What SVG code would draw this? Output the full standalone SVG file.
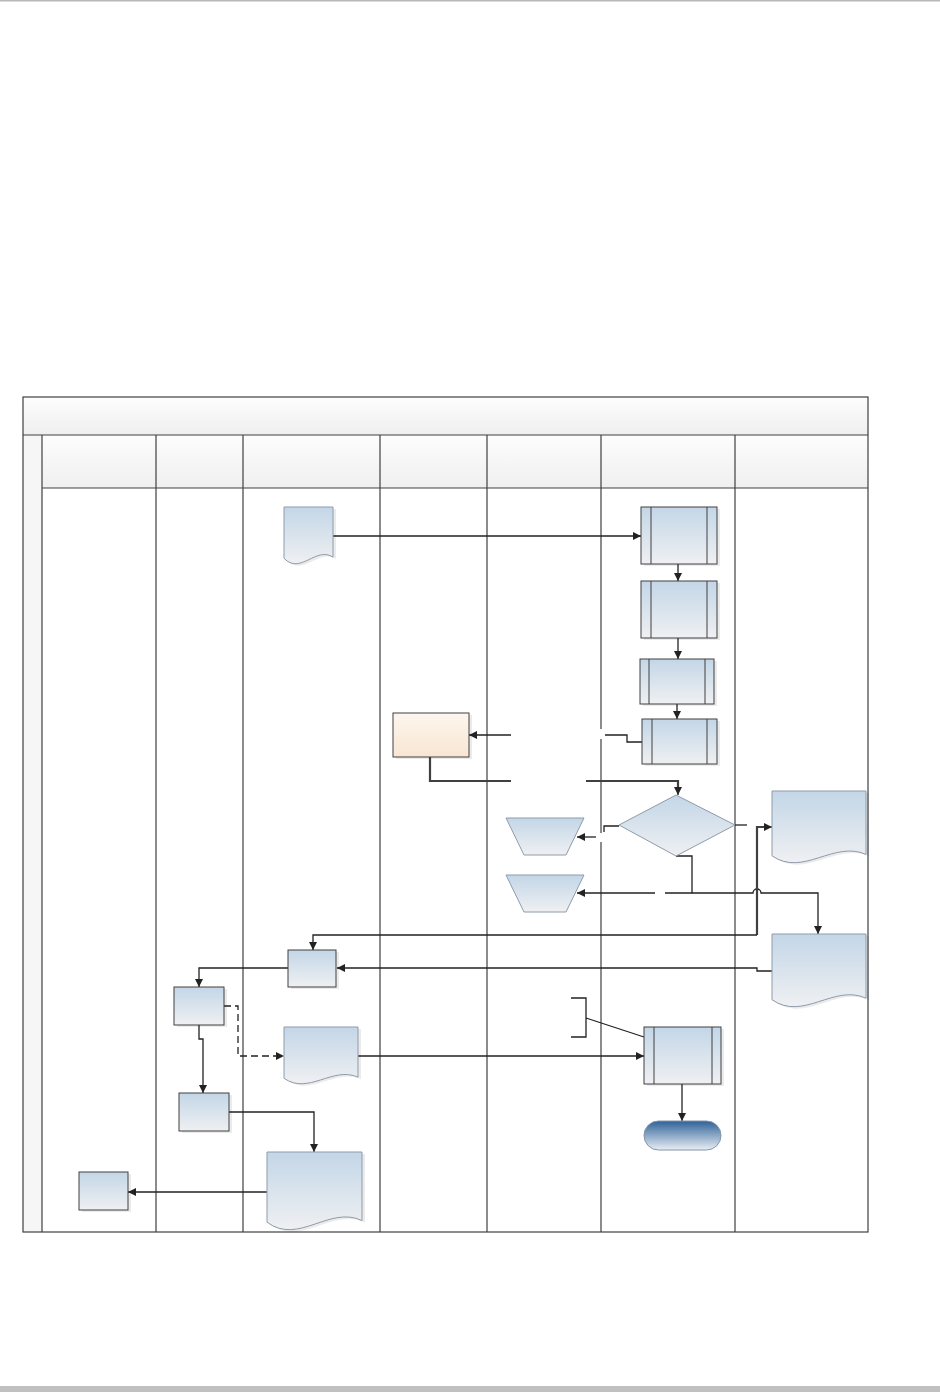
<svg xmlns="http://www.w3.org/2000/svg" width="940" height="1392" viewBox="0 0 940 1392">
<defs>
<linearGradient id="gBlue" x1="0" y1="0" x2="0" y2="1"><stop offset="0" stop-color="#c3d6e7"/><stop offset="1" stop-color="#eff0f2"/></linearGradient>
<linearGradient id="gOrange" x1="0" y1="0" x2="0" y2="1"><stop offset="0" stop-color="#fdf6ee"/><stop offset="1" stop-color="#f8e6d2"/></linearGradient>
<linearGradient id="gHead" x1="0" y1="0" x2="0" y2="1"><stop offset="0" stop-color="#fdfdfd"/><stop offset="1" stop-color="#efefef"/></linearGradient>
<linearGradient id="gTerm" x1="0" y1="0" x2="0" y2="1"><stop offset="0" stop-color="#2f6298"/><stop offset="1" stop-color="#e9eef4"/></linearGradient>
<marker id="arr" viewBox="0 0 10 10" refX="10" refY="5" markerWidth="9" markerHeight="8" markerUnits="userSpaceOnUse" orient="auto"><path d="M0,0 L10,5 L0,10 z" fill="#222"/></marker>
<style>
.lane{stroke:#404040;stroke-width:1.2;fill:none}
.proc{fill:url(#gBlue);stroke:#404040;stroke-width:1}
.doc{fill:url(#gBlue);stroke:#8e9bab;stroke-width:1}
.shape{fill:url(#gBlue);stroke:#8e9bab;stroke-width:1}
.sh{fill:#000;opacity:0.08}
.c{fill:none;stroke:#222;stroke-width:1.3}
.ca{fill:none;stroke:#222;stroke-width:1.3;marker-end:url(#arr)}
.thick{fill:none;stroke:#404040;stroke-width:2.2}
.inner{stroke:#404040;stroke-width:1}
</style>
</defs>
<rect x="0" y="0" width="940" height="1392" fill="#fff"/>
<rect x="0" y="0" width="940" height="1.5" fill="#b8b8b8"/>
<rect x="0" y="1386" width="940" height="6" fill="#c0c0c0"/>

<g id="pool">
<rect x="23" y="397" width="845" height="38" fill="url(#gHead)"/>
<rect x="42" y="435" width="826" height="53" fill="url(#gHead)"/>
<rect x="23" y="435" width="19" height="797" fill="#f6f6f6"/>
<rect x="23" y="397" width="845" height="835" class="lane" stroke-width="1.5"/>
<path class="lane" d="M23,435 H868 M42,488 H868 M42,435 V1232 M156,435 V1232 M243,435 V1232 M380,435 V1232 M487,435 V1232 M735,435 V1232 M601,435 V729 M601,739 V833 M601,842 V1232"/>
</g>

<g id="connectors">
<path class="c" d="M333,536 H641" stroke-width="1.5" marker-end="url(#arr)"/>
<path class="ca" d="M678,564 V581"/>
<path class="ca" d="M678,638 V659"/>
<path class="ca" d="M677,704 V719"/>
<path class="c" d="M642,742 H627 V735 H605"/>
<path class="ca" d="M511,735 H469"/>
<path class="thick" d="M430,757 V781 H511"/>
<path class="thick" d="M586,781 H678 V790"/>
<path class="ca" d="M678,788 V795"/>
<path class="c" d="M619,826 H604 V832"/>
<path class="ca" d="M596,837 H577"/>
<path class="c" d="M676,856 H692 V893 H665"/>
<path class="ca" d="M655,893 H577"/>
<path class="ca" d="M692,893 H753 a4,4 0 0 1 8,0 H818 V934"/>
<path class="c" d="M735,825 H747"/>
<path class="thick" d="M757,935 V827 H766" stroke="#111" stroke-width="2.5"/>
<path class="ca" d="M764,827 H772"/>
<path class="ca" d="M757,935 H313 V950" stroke-width="1.5"/>
<path class="ca" d="M772,971 H757 V968 H337" stroke-width="1.4"/>
<path class="ca" d="M288,968 H199 V987"/>
<path class="ca" d="M224,1006 H238 V1056 H284" stroke-dasharray="7,4"/>
<path class="ca" d="M358,1056 H644"/>
<path class="ca" d="M199,1025 V1039 H203 V1093"/>
<path class="ca" d="M229,1112 H314 V1152"/>
<path class="ca" d="M267,1192 H128"/>
<path class="ca" d="M682,1084 V1121"/>
<path class="c" d="M571,998 H586 V1037 H571 M586,1018 L644,1037" stroke="#404040"/>
</g>

<g id="doc1"><path class="sh" transform="translate(3,2)" d="M284,507 H333 V557.2 C316.3,545.8 300.2,575.4 284,558.3 Z"/><path class="doc" d="M284,507 H333 V557.2 C316.3,545.8 300.2,575.4 284,558.3 Z"/></g>
<g id="sub1"><rect class="sh" x="644" y="509" width="76" height="57"/><rect class="proc" x="641" y="507" width="76" height="57"/><path class="inner" d="M651,507 V564 M707,507 V564"/></g>
<g id="sub2"><rect class="sh" x="644" y="583" width="76" height="57"/><rect class="proc" x="641" y="581" width="76" height="57"/><path class="inner" d="M651,581 V638 M707,581 V638"/></g>
<g id="sub3"><rect class="sh" x="643" y="661" width="74" height="45"/><rect class="proc" x="640" y="659" width="74" height="45"/><path class="inner" d="M649,659 V704 M705,659 V704"/></g>
<g id="sub4"><rect class="sh" x="645" y="721" width="75" height="45"/><rect class="proc" x="642" y="719" width="75" height="45"/><path class="inner" d="M652,719 V764 M707,719 V764"/></g>
<g id="orange"><rect class="sh" x="396" y="715" width="76" height="44"/><rect x="393" y="713" width="76" height="44" fill="url(#gOrange)" stroke="#404040" stroke-width="1"/></g>
<g id="decision"><polygon class="shape" points="676,795 735,825 676,856 619,825"/></g>
<g id="trap1"><polygon class="shape" points="506,818 584,818 566,855 524,855"/></g>
<g id="trap2"><polygon class="shape" points="506,875 584,875 566,912 524,912"/></g>
<g id="docR1"><path class="sh" transform="translate(3,2)" d="M772,791 H866 V854.4 C834,840 803,877.4 772,855.8 Z"/><path class="doc" d="M772,791 H866 V854.4 C834,840 803,877.4 772,855.8 Z"/></g>
<g id="docR2"><path class="sh" transform="translate(3,2)" d="M772,934 H866 V998.2 C834,983.6 803,1021.6 772,999.7 Z"/><path class="doc" d="M772,934 H866 V998.2 C834,983.6 803,1021.6 772,999.7 Z"/></g>
<g id="boxA"><rect class="sh" x="291" y="952" width="48" height="37"/><rect class="proc" x="288" y="950" width="48" height="37"/></g>
<g id="boxB"><rect class="sh" x="177" y="989" width="50" height="38"/><rect class="proc" x="174" y="987" width="50" height="38"/></g>
<g id="docC"><path class="sh" transform="translate(3,2)" d="M284,1027 H358 V1077.2 C332.8,1065.8 308.4,1095.4 284,1078.3 Z"/><path class="doc" d="M284,1027 H358 V1077.2 C332.8,1065.8 308.4,1095.4 284,1078.3 Z"/></g>
<g id="boxD"><rect class="sh" x="182" y="1095" width="50" height="38"/><rect class="proc" x="179" y="1093" width="50" height="38"/></g>
<g id="docE"><path class="sh" transform="translate(3,2)" d="M267,1152 H362 V1220.6 C329.7,1205 298.4,1245.6 267,1222.2 Z"/><path class="doc" d="M267,1152 H362 V1220.6 C329.7,1205 298.4,1245.6 267,1222.2 Z"/></g>
<g id="boxF"><rect class="sh" x="82" y="1174" width="49" height="38"/><rect class="proc" x="79" y="1172" width="49" height="38"/></g>
<g id="sub5"><rect class="sh" x="647" y="1029" width="77" height="57"/><rect class="proc" x="644" y="1027" width="77" height="57"/><path class="inner" d="M654,1027 V1084 M712,1027 V1084"/></g>
<g id="terminator"><rect x="644" y="1121" width="77" height="29" rx="14.5" fill="url(#gTerm)" stroke="#8393a8" stroke-width="1"/></g>
</svg>
